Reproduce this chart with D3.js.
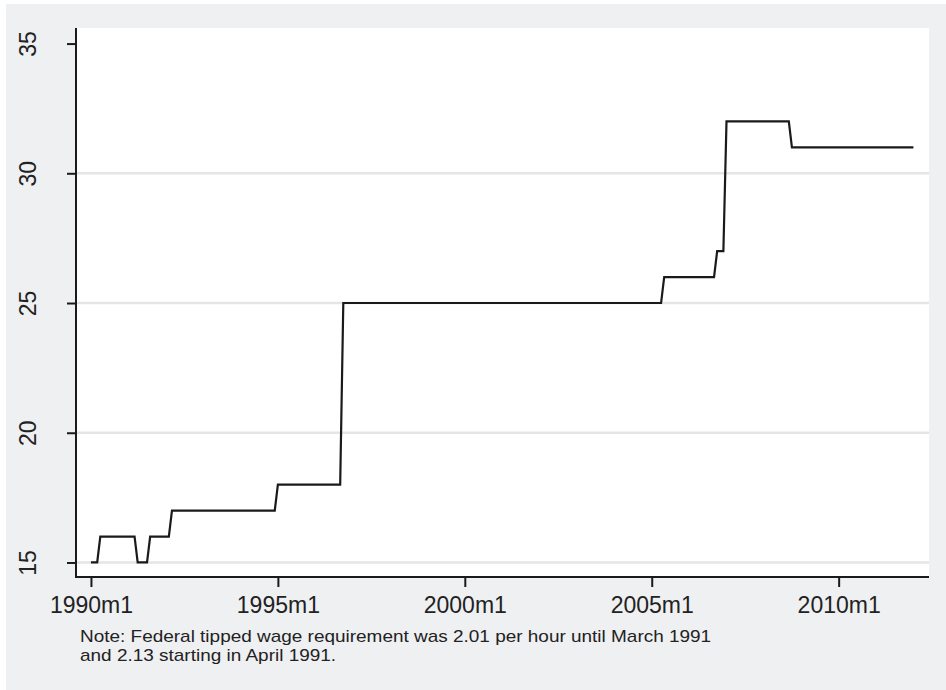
<!DOCTYPE html>
<html>
<head>
<meta charset="utf-8">
<script src="https://cdn.jsdelivr.net/npm/d3@7"></script>
<style>
  html, body { margin: 0; padding: 0; background: #ffffff; }
  svg { display: block; }
  text { font-family: "Liberation Sans", Arial, sans-serif; fill: #222; }
</style>
</head>
<body>
<svg id="chart" width="946" height="690"></svg>
<script>
// Breakpoints of the monthly step series (start and end month of each run)
const dates = ["1990m1","1990m3","1990m4","1991m3","1991m4","1991m7","1991m8","1992m2",
               "1992m3","1994m12","1995m1","1996m9","1996m10","2005m4","2005m5","2006m9",
               "2006m10","2006m12","2007m1","2008m9","2008m10","2012m1"];
const values = [15,15,16,16,15,15,16,16,
                17,17,18,18,25,25,26,26,
                27,27,32,32,31,31];
const xTickLabels = ["1990m1","1995m1","2000m1","2005m1","2010m1"];
const yTicks = [15,20,25,30,35];
const noteLines = ["Note: Federal tipped wage requirement was 2.01 per hour until March 1991",
                   "and 2.13 starting in April 1991."];

const parseM = s => { const [y,m] = s.split("m").map(Number); return (y-1990)*12 + (m-1); };
const data = dates.map((d,i) => ({ t: parseM(d), v: values[i] }));

const svg = d3.select("#chart");
const W = 946, H = 690;
const plot = { left: 76, right: 929, top: 28, bottom: 577 };

// outer background
svg.append("rect").attr("x", 6).attr("y", 4).attr("width", W - 6).attr("height", H - 4).attr("fill", "#eff0f2");
// plot region
svg.append("rect").attr("x", plot.left).attr("y", plot.top)
   .attr("width", plot.right - plot.left).attr("height", plot.bottom - plot.top).attr("fill", "#ffffff");

const x = d3.scaleLinear().domain([-4.8, 269]).range([plot.left, plot.right]);
const y = d3.scaleLinear().domain([14.44, 35.6]).range([plot.bottom, plot.top]);

// gridlines
svg.append("g").selectAll("line").data(yTicks.filter(v => v !== 35)).join("line")
  .attr("x1", plot.left).attr("x2", plot.right)
  .attr("y1", d => y(d)).attr("y2", d => y(d))
  .attr("stroke", "#e4e5e7").attr("stroke-width", 2.5);

// data line
const line = d3.line().x(d => x(d.t)).y(d => y(d.v));
svg.append("path").datum(data).attr("d", line)
  .attr("fill", "none").attr("stroke", "#1a1a1a").attr("stroke-width", 2.2)
  .attr("stroke-linejoin", "miter");

// y axis
const yAxis = d3.axisLeft(y).tickValues(yTicks).tickSize(9).tickPadding(0).tickFormat(d3.format("d"));
const gy = svg.append("g").attr("transform", `translate(${plot.left},0)`).call(yAxis);
gy.select(".domain").remove();
gy.append("line").attr("x1", 0).attr("x2", 0).attr("y1", plot.top).attr("y2", plot.bottom + 1)
  .attr("stroke", "#1a1a1a").attr("stroke-width", 2);
gy.selectAll(".tick line").attr("stroke", "#1a1a1a").attr("stroke-width", 2);
gy.selectAll(".tick text")
  .attr("x", 0).attr("dy", null)
  .attr("transform", `translate(-40,0) rotate(-90)`)
  .attr("text-anchor", "middle").attr("dominant-baseline", "auto")
  .style("font-size", "23px").style("font-family", "'Liberation Sans', Arial, sans-serif").attr("fill", "#222");

// x axis
const xAxis = d3.axisBottom(x).tickValues(xTickLabels.map(parseM)).tickSize(10).tickPadding(0)
  .tickFormat((d,i) => xTickLabels[i]);
const gx = svg.append("g").attr("transform", `translate(0,${plot.bottom})`).call(xAxis);
gx.select(".domain").remove();
gx.append("line").attr("x1", plot.left - 1).attr("x2", plot.right).attr("y1", 0).attr("y2", 0)
  .attr("stroke", "#1a1a1a").attr("stroke-width", 2);
gx.selectAll(".tick line").attr("stroke", "#1a1a1a").attr("stroke-width", 2);
gx.selectAll(".tick text").attr("y", 36).attr("dy", null)
  .style("font-size", "23px").style("font-family", "'Liberation Sans', Arial, sans-serif").attr("fill", "#222");

// note (glyphs slightly wider than standard, as in the reference)
const notes = svg.append("g").selectAll("text").data(noteLines).join("text")
  .attr("x", 80).attr("y", (d,i) => 642 + i * 19)
  .style("font-size", "17px").attr("fill", "#222")
  .text(d => d);
notes.each(function() {
  const len = this.getComputedTextLength();
  d3.select(this).attr("textLength", len * 1.115).attr("lengthAdjust", "spacingAndGlyphs");
});
</script>
</body>
</html>
